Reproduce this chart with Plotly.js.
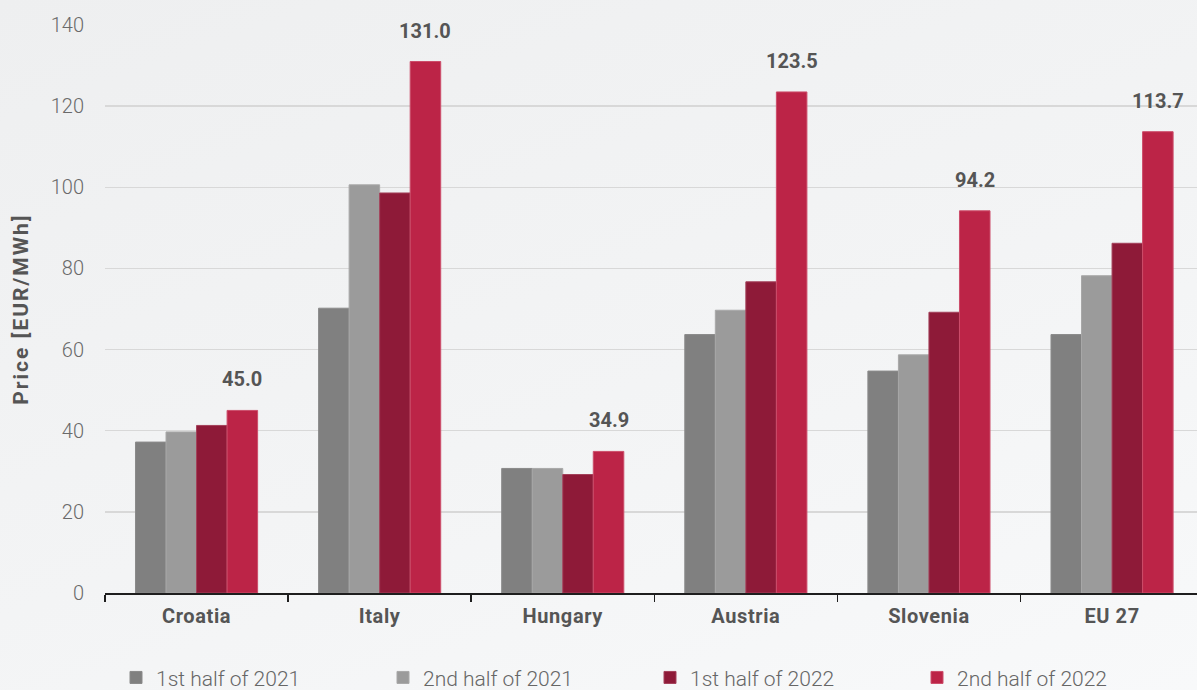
<!DOCTYPE html>
<html>
<head>
<meta charset="utf-8">
<script src="https://cdn.plot.ly/plotly-3.0.1.min.js"></script>
<style>
  html, body { margin: 0; padding: 0; overflow: hidden; }
  body { width: 1197px; height: 690px; background: linear-gradient(160deg, #eeeff0 0%, #f3f4f5 55%, #f8f9fa 100%); }
  #chart { width: 1197px; height: 700px; }
  #chart .ytitle { letter-spacing: 2px; }
  #chart .xtick text { letter-spacing: 0.6px; }
</style>
</head>
<body>
<div id="chart"></div>
<script>
const categories = ["Croatia", "Italy", "Hungary", "Austria", "Slovenia", "EU 27"];
const seriesNames = ["1st half of 2021", "2nd half of 2021", "1st half of 2022", "2nd half of 2022"];
const h1_2021 = [37.2, 70.2, 30.7, 63.7, 54.7, 63.7];
const h2_2021 = [39.7, 100.6, 30.7, 69.7, 58.7, 78.2];
const h1_2022 = [41.3, 98.6, 29.2, 76.7, 69.2, 86.2];
const h2_2022 = [45.0, 131.0, 34.9, 123.5, 94.2, 113.7];
const yTicks = [0, 20, 40, 60, 80, 100, 120, 140];

const colors = ["#808080", "#9b9b9b", "#8e1a38", "#bc2447"];
const lineColors = ["#8a8a8a", "#a8a8a8", "#a3405a", "#cc4d6a"];
const allSeries = [h1_2021, h2_2021, h1_2022, h2_2022];

const traces = allSeries.map((vals, i) => ({
  type: "bar",
  name: seriesNames[i],
  x: categories,
  y: vals,
  marker: { color: colors[i], line: { color: lineColors[i], width: 1 } },
  hoverinfo: "x+y+name"
}));

const plotW = 1092; // px width of plot area
const plotH = 568;
const catW = 183.1;
const bargap = 0.333;
const barW = catW * (1 - bargap) / 4;

const annotations = categories.map((c, i) => ({
  x: c,
  y: h2_2022[i],
  xref: "x",
  yref: "y",
  text: h2_2022[i].toFixed(1),
  showarrow: false,
  xanchor: "center",
  yanchor: "bottom",
  xshift: 1.5 * barW,
  yshift: 17,
  font: { family: "Roboto, sans-serif", size: 20, color: "#555555", weight: 700 }
}));

const layout = {
  width: 1197,
  height: 700,
  paper_bgcolor: "rgba(0,0,0,0)",
  plot_bgcolor: "rgba(0,0,0,0)",
  margin: { l: 105, r: 0, t: 24.7, b: 107.3, pad: 0 },
  barmode: "group",
  bargap: bargap,
  bargroupgap: 0,
  showlegend: true,
  legend: {
    orientation: "h",
    x: (116 - 105) / plotW,
    xanchor: "left",
    y: -(677.5 - 592.7) / plotH,
    yanchor: "middle",
    entrywidth: 222,
    entrywidthmode: "pixels",
    font: { family: "Roboto, sans-serif", size: 21, color: "#666666", weight: 300 },
    traceorder: "normal",
    bgcolor: "rgba(0,0,0,0)"
  },
  xaxis: {
    type: "category",
    range: [-0.5, -0.5 + plotW / catW],
    showline: true,
    linecolor: "#1e1e1e",
    linewidth: 2,
    ticks: "outside",
    tickson: "boundaries",
    ticklen: 7,
    tickwidth: 1.5,
    tickcolor: "#1e1e1e",
    ticklabelstandoff: 4,
    showgrid: false,
    tickfont: { family: "Roboto, sans-serif", size: 20, color: "#555555", weight: 700 },
    fixedrange: true
  },
  yaxis: {
    range: [0, 140],
    tickvals: yTicks,
    ticktext: yTicks.map(String),
    showgrid: true,
    gridcolor: "#d8d8d8",
    gridwidth: 1.5,
    zeroline: false,
    showline: false,
    ticks: "outside",
    ticklen: 16,
    tickcolor: "rgba(0,0,0,0)",
    tickfont: { family: "Roboto, sans-serif", size: 20, color: "#6a6a6a", weight: 300 },
    title: {
      text: "Price [EUR/MWh]",
      font: { family: "Roboto, sans-serif", size: 21, color: "#555555", weight: 700 },
      standoff: 16
    },
    fixedrange: true
  },
  annotations: annotations
};

Plotly.newPlot("chart", traces, layout, { displayModeBar: false, staticPlot: true });
</script>
</body>
</html>
